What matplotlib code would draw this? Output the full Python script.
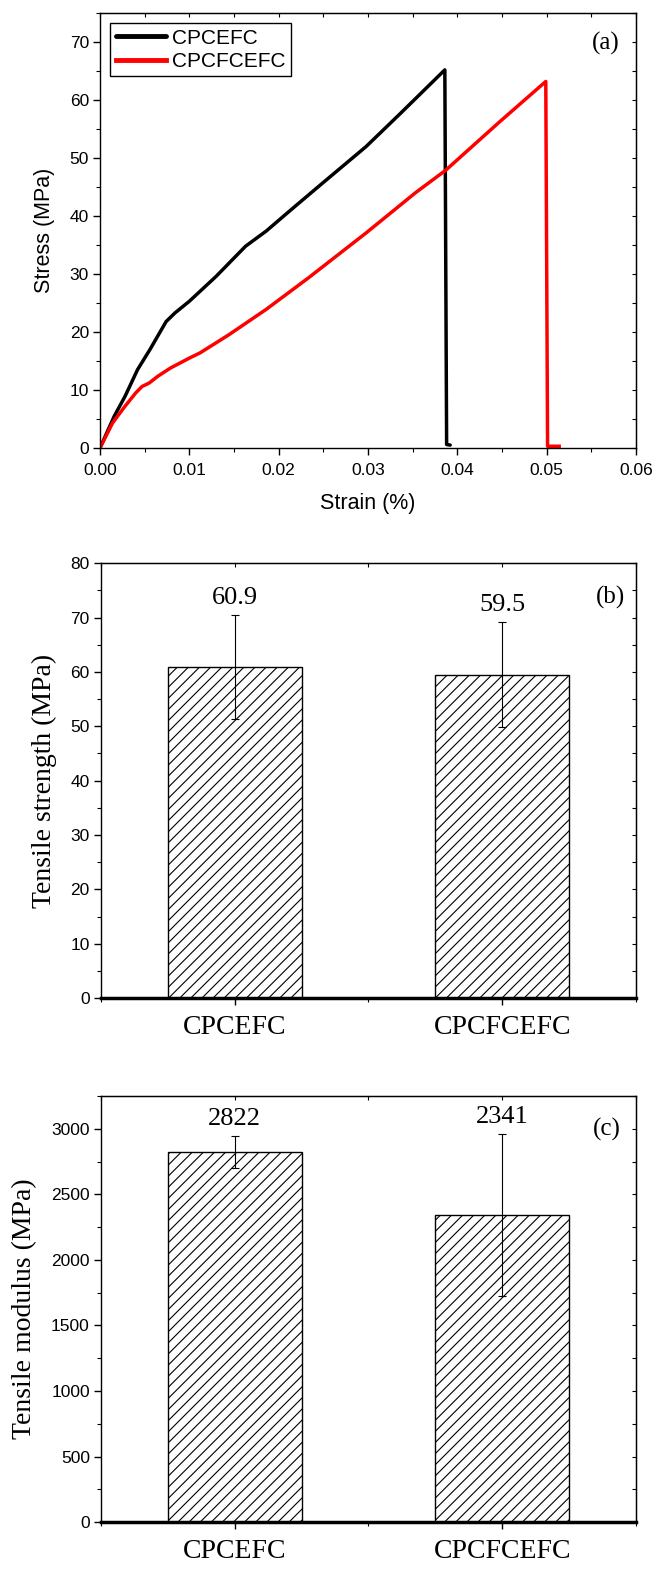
import matplotlib
matplotlib.use("Agg")
import matplotlib.pyplot as plt
from matplotlib.ticker import MultipleLocator, FixedLocator, NullFormatter

# (a) stress-strain curves
black_strain = [0.0, 0.0016, 0.0028, 0.0042, 0.0056, 0.0074, 0.0084, 0.0100, 0.0130, 0.0163,
                0.0186, 0.0214, 0.0247, 0.0298, 0.0335, 0.0386, 0.0388, 0.0392]
black_stress = [0.0, 5.5, 8.9, 13.5, 17.0, 21.8, 23.3, 25.3, 29.6, 34.8,
                37.4, 41.1, 45.4, 52.0, 57.5, 65.2, 0.6, 0.5]
red_strain = [0.0, 0.0014, 0.0028, 0.0040, 0.0047, 0.0055, 0.0065, 0.0079, 0.0100, 0.0112,
              0.0144, 0.0186, 0.0233, 0.0298, 0.0353, 0.0387, 0.0447, 0.0499, 0.0501, 0.0514]
red_stress = [0.0, 4.3, 7.2, 9.5, 10.6, 11.2, 12.4, 13.8, 15.5, 16.4,
              19.5, 23.9, 29.3, 37.1, 44.0, 47.9, 56.2, 63.2, 0.3, 0.3]
series_names = ["CPCEFC", "CPCFCEFC"]

# (b) tensile strength, (c) tensile modulus
samples = ["CPCEFC", "CPCFCEFC"]
strength = [60.9, 59.5]
strength_err = [9.6, 9.6]
modulus = [2822, 2341]
modulus_err = [122, 620]

SANS = "Liberation Sans"
SERIF = "Liberation Serif"
plt.rcParams["font.family"] = SANS
plt.rcParams["hatch.linewidth"] = 0.8

fig = plt.figure(figsize=(6.54, 15.73), dpi=100)
ax_a = fig.add_axes([0.1529, 0.7152, 0.8196, 0.2765])
ax_b = fig.add_axes([0.1544, 0.3655, 0.8180, 0.2765])
ax_c = fig.add_axes([0.1544, 0.0324, 0.8180, 0.2708])


def _style_frame(ax, bottom_lw=1.0):
    for side in ["left", "right", "top"]:
        ax.spines[side].set_linewidth(1.0)
    ax.spines["bottom"].set_linewidth(bottom_lw)
    ax.tick_params(which="major", direction="out", length=5, width=1.0, labelsize=12.5, pad=3)
    ax.tick_params(which="minor", direction="out", length=3, width=0.8)
    top = ax.secondary_xaxis("top")
    top.xaxis.set_major_locator(ax.xaxis.get_major_locator())
    top.xaxis.set_minor_locator(ax.xaxis.get_minor_locator())
    top.tick_params(which="both", direction="in", length=3, width=0.8, labeltop=False)
    top.xaxis.set_minor_formatter(NullFormatter())
    right = ax.secondary_yaxis("right")
    right.yaxis.set_major_locator(ax.yaxis.get_major_locator())
    right.yaxis.set_minor_locator(ax.yaxis.get_minor_locator())
    right.tick_params(which="both", direction="in", length=3, width=0.8, labelright=False)
    right.yaxis.set_minor_formatter(NullFormatter())


# ---- (a)
ax_a.plot(black_strain, black_stress, color="black", lw=2.5, label=series_names[0],
          solid_capstyle="round", solid_joinstyle="round")
ax_a.plot(red_strain, red_stress, color="red", lw=2.5, label=series_names[1],
          solid_joinstyle="round")
ax_a.set_xlim(0, 0.06)
ax_a.set_ylim(0, 75)
ax_a.xaxis.set_major_locator(MultipleLocator(0.01))
ax_a.xaxis.set_minor_locator(MultipleLocator(0.005))
ax_a.yaxis.set_major_locator(MultipleLocator(10))
ax_a.yaxis.set_minor_locator(MultipleLocator(5))
ax_a.xaxis.set_major_formatter(lambda v, p: f"{v:.2f}")
_style_frame(ax_a)
ax_a.tick_params(axis="x", pad=6)
ax_a.set_xlabel("Strain (%)", fontsize=15.5, va="center")
ax_a.xaxis.set_label_coords(0.5, -0.128)
ax_a.set_ylabel("Stress (MPa)", fontsize=15.5, va="center")
ax_a.yaxis.set_label_coords(-0.103, 0.5)
leg = ax_a.legend(loc="upper left", fontsize=15, frameon=True, fancybox=False,
                  edgecolor="black", framealpha=1, handlelength=2.4, handletextpad=0.3,
                  borderpad=0.25, labelspacing=0.2, borderaxespad=0.5)
leg.get_frame().set_linewidth(1.0)
for line in leg.get_lines():
    line.set_linewidth(3.5)
ax_a.text(0.943, 0.931, "(a)", transform=ax_a.transAxes, ha="center", va="center",
          fontsize=18, family=SERIF)


# ---- (b), (c)
def _bar_panel(ax, values, errs, ylim, major, minor, ylabel, tag, tag_xy, label_fmt, label_x):
    xs = [1, 2]
    ax.bar(xs, values, width=0.5, color="white", edgecolor="black", hatch="///",
           linewidth=1.0, zorder=2)
    ax.errorbar(xs, values, yerr=errs, fmt="none", ecolor="black", elinewidth=0.8,
                capsize=3, capthick=0.8, zorder=3)
    for x, v, e in zip(xs, values, errs):
        ax.annotate(label_fmt.format(v), (x, v + e), xytext=(0, 8), textcoords="offset points",
                    ha="center", va="baseline", fontsize=19, family=SERIF)
    ax.set_xlim(0.5, 2.5)
    ax.set_ylim(*ylim)
    ax.xaxis.set_major_locator(FixedLocator(xs))
    ax.xaxis.set_minor_locator(FixedLocator([0.5, 1.5, 2.5]))
    ax.yaxis.set_major_locator(MultipleLocator(major))
    ax.yaxis.set_minor_locator(MultipleLocator(minor))
    _style_frame(ax, bottom_lw=2.5)
    ax.set_xticks(xs)
    ax.set_xticklabels(samples, fontsize=20, family=SERIF)
    ax.tick_params(axis="x", pad=7)
    ax.set_ylabel(ylabel, fontsize=20, family=SERIF, va="center")
    ax.yaxis.set_label_coords(label_x, 0.5)
    ax.text(tag_xy[0], tag_xy[1], tag, transform=ax.transAxes, ha="center", va="center",
            fontsize=18, family=SERIF)


_bar_panel(ax_b, strength, strength_err, (0, 80), 10, 5, "Tensile strength (MPa)",
           "(b)", (0.953, 0.922), "{:.1f}", -0.105)
_bar_panel(ax_c, modulus, modulus_err, (0, 3250), 500, 250, "Tensile modulus (MPa)",
           "(c)", (0.946, 0.922), "{:d}", -0.142)

fig.savefig("out.png", dpi=100)
